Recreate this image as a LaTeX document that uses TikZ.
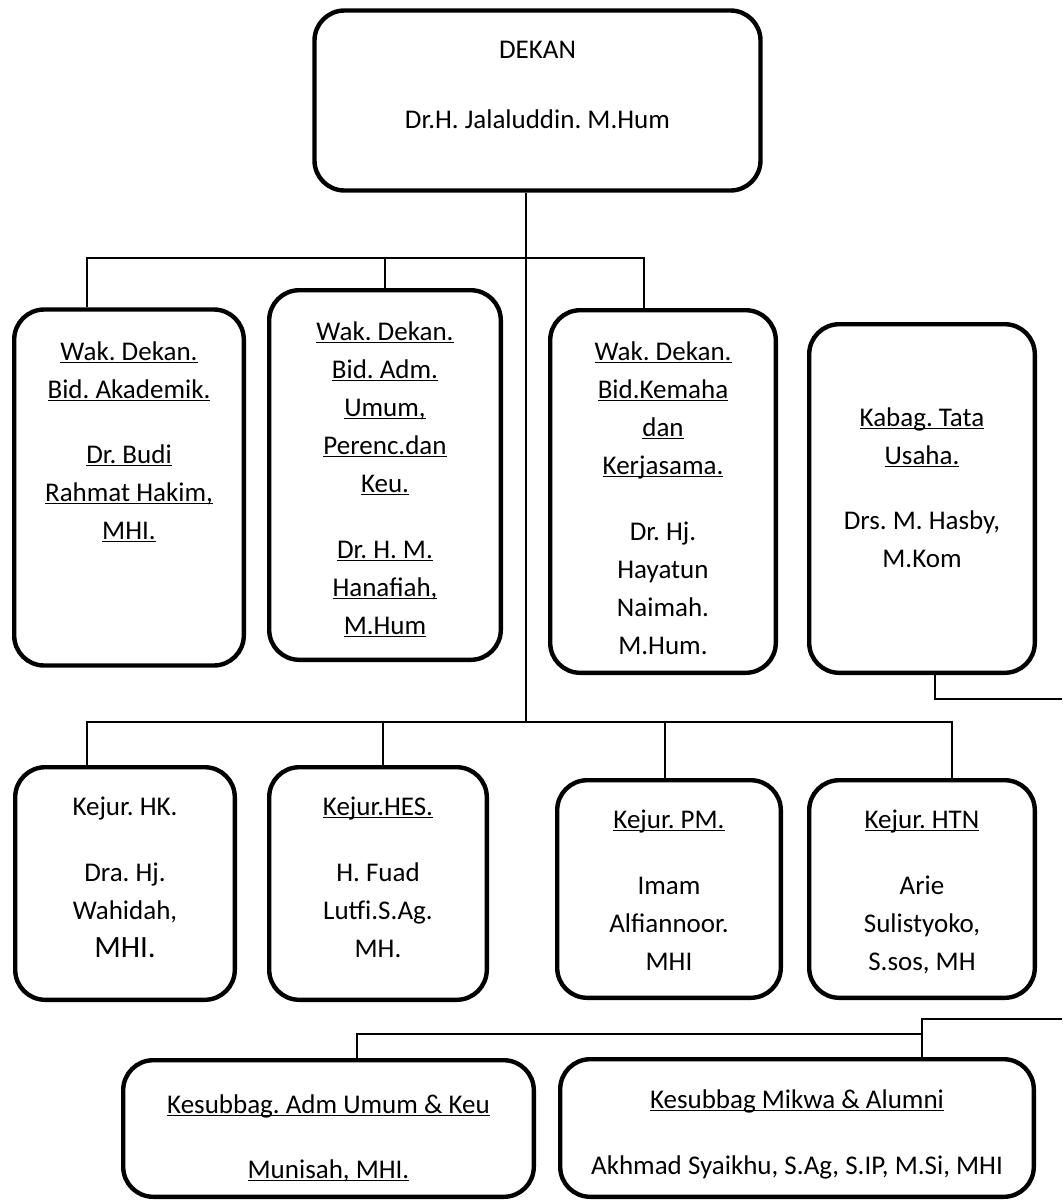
\documentclass[tikz,border=0pt]{standalone}
\usepackage{fontspec}
\setmainfont{Carlito}
\usetikzlibrary{positioning,calc}

\newcommand\garis[1]{\underline{\smash{#1}}}

\begin{document}
\begin{tikzpicture}[x=0.5pt, y=-0.5pt,
    unit/.style={draw, line width=2.2pt, rounded corners=15pt, inner sep=0pt},
    txt/.style={anchor=base, text width=240pt, align=flush center, inner sep=0pt,
        font=\fontsize{13.5}{19}\selectfont\frenchspacing},
    link/.style={line width=1pt},
]
\useasboundingbox (0,0) rectangle (1062,1201);

% boxes
\node[unit, minimum width=223pt, minimum height=90pt] (dekan) at (537.5,100.5) {};
\node[unit, minimum width=114.8pt, minimum height=178pt] (wd1) at (129,487.5) {};
\node[unit, minimum width=115.8pt, minimum height=184.8pt] (wd2) at (385,475) {};
\node[unit, minimum width=112.8pt, minimum height=181.3pt] (wd3) at (663,491.5) {};
\node[unit, minimum width=112.8pt, minimum height=174.3pt] (kabag) at (922,498.5) {};
\node[unit, minimum width=109.8pt, minimum height=116.3pt] (hk) at (125,883.5) {};
\node[unit, minimum width=108.8pt, minimum height=116.3pt] (hes) at (378,883.5) {};
\node[unit, minimum width=111.8pt, minimum height=108.8pt] (pm) at (669,889) {};
\node[unit, minimum width=112.8pt, minimum height=108.8pt] (htn) at (922,889) {};
\node[unit, minimum width=205.3pt, minimum height=68.3pt] (adm) at (328.5,1128.5) {};
\node[unit, minimum width=236.8pt, minimum height=68.8pt] (mikwa) at (797,1128) {};

% texts
\node[txt] (dekant) at (537.5,58) {DEKAN\\[16pt] Dr.H. Jalaluddin. M.Hum};
\node[txt] (wd1t) at (129,360) {\garis{Wak. Dekan.}\\ \garis{Bid. Akademik.}\\[13.5pt]
    \garis{Dr. Budi}\\ \garis{Rahmat Hakim,}\\ \garis{MHI.}};
\node[txt] (wd2t) at (385,340) {\garis{Wak. Dekan.}\\ \garis{Bid. Adm.}\\ \garis{Umum,}\\
    \garis{Perenc.dan}\\ \garis{Keu.}\\[14pt] \garis{Dr. H. M.}\\ \garis{Hanafiah,}\\ \garis{M.Hum}};
\node[txt] (wd3t) at (663,360) {\garis{Wak. Dekan.}\\ \garis{Bid.Kemaha}\\ \garis{dan}\\
    \garis{Kerjasama.}\\[14pt] Dr. Hj.\\ Hayatun\\ Naimah.\\ M.Hum.};
\node[txt] (kabagt) at (922,426) {\garis{Kabag. Tata}\\ \garis{Usaha.}\\[13.5pt]
    Drs. M. Hasby,\\ M.Kom};
\node[txt] (hkt) at (125,815) {Kejur. HK.\\[14pt] Dra. Hj.\\ Wahidah,\\
    {\fontsize{15.5}{19}\selectfont MHI.}};
\node[txt] (hest) at (378,815) {\garis{Kejur.HES.}\\[14pt] H. Fuad\\ Lutfi.S.Ag.\\ MH.};
\node[txt] (pmt) at (669,828) {\garis{Kejur. PM.}\\[14pt] Imam\\ Alfiannoor.\\ MHI};
\node[txt] (htnt) at (922,828) {\garis{Kejur. HTN}\\[14pt] Arie\\ Sulistyoko,\\ S.sos, MH};
\node[txt] (admt) at (328.5,1113) {\garis{Kesubbag. Adm Umum \& Keu}\\[13.5pt] \garis{Munisah, MHI.}};
\node[txt] (mikwat) at (797,1108) {\garis{Kesubbag Mikwa \& Alumni}\\[14pt]
    Akhmad Syaikhu, S.Ag, S.IP, M.Si, MHI};

% connectors
\coordinate (hubA) at (526,258);
\coordinate (hubB) at (526,722);
\coordinate (hubC) at (922,1034);
\coordinate (outA) at (1062,699);
\coordinate (outB) at (1062,1019);

\draw[link] (dekan.south -| hubA) -- (hubB);
\draw[link] (hubA) -| ([xshift=-21pt]wd1.north);
\draw[link] (hubA) -| (wd2.north);
\draw[link] (hubA) -| ([xshift=-9.5pt]wd3.north);
\draw[link] (hubB) -| ([xshift=-19pt]hk.north);
\draw[link] (hubB) -| ([xshift=2.5pt]hes.north);
\draw[link] (hubB) -| ([xshift=-2pt]pm.north);
\draw[link] (hubB) -| ([xshift=15pt]htn.north);
\draw[link] ([xshift=6.5pt]kabag.south) |- (outA);
\draw[link] (outB) -| ([xshift=62.5pt]mikwa.north);
\draw[link] (hubC) -| ([xshift=14.25pt]adm.north);
\end{tikzpicture}
\end{document}
